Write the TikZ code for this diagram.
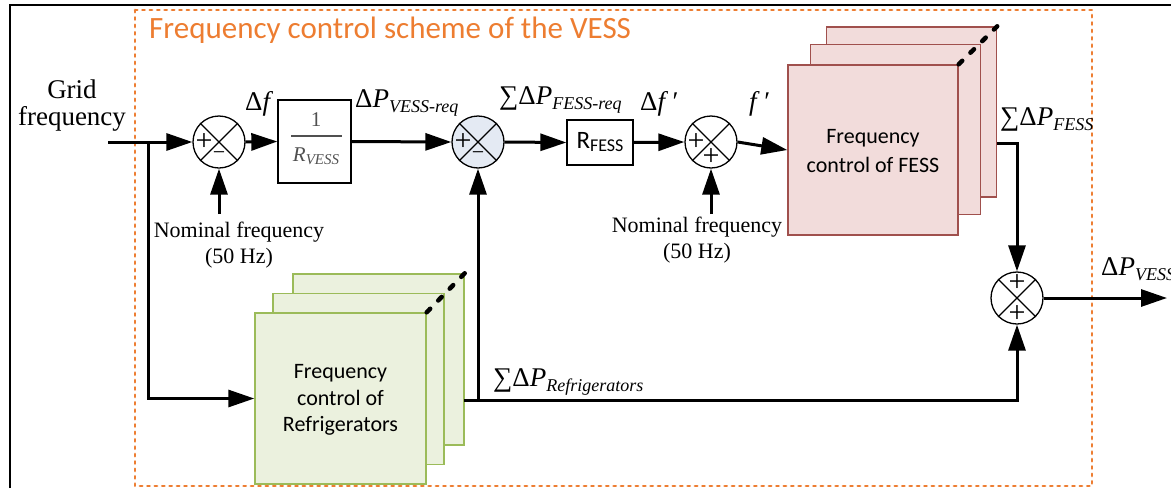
\documentclass[tikz,border=0pt]{standalone}
\usepackage{fontspec}
\setmainfont{Liberation Serif}
\newfontfamily\calib{Carlito}
\usetikzlibrary{arrows.meta}

\definecolor{vessorange}{HTML}{ED7D31}
\definecolor{fessfill}{HTML}{F2DCDB}
\definecolor{fessline}{HTML}{A0504D}
\definecolor{refrfill}{HTML}{EBF1DE}
\definecolor{refrline}{HTML}{9BBB59}
\definecolor{sumfill}{HTML}{E4EAF3}
\definecolor{fracgray}{HTML}{505050}

\newcommand{\fsz}[1]{\fontsize{#1}{1.15\dimexpr#1pt\relax}\selectfont}
\newcommand{\lowsub}[1]{\raisebox{-5pt}{\fsz{18}\itshape #1}}

\begin{document}
\begin{tikzpicture}[x=1pt,y=-1pt,
  wire/.style={line width=3pt},
  flow/.style={wire,-{Triangle[length=26pt,width=17pt]}},
  summer/.style={circle,draw,line width=1.3pt,minimum size=52pt,inner sep=0pt},
  sign/.style={inner sep=0pt,font=\fsz{30}},
  lab/.style={inner sep=0pt,font=\fsz{27}},
  nomtext/.style={align=center,inner sep=0pt,font=\fsz{22}},
  fessbox/.style={draw=fessline,fill=fessfill,line width=1.4pt,minimum width=170pt,minimum height=170pt,inner sep=0pt},
  refrbox/.style={draw=refrline,fill=refrfill,line width=1.4pt,minimum width=171pt,minimum height=171pt,inner sep=0pt},
  blocktext/.style={align=center,inner sep=0pt,font=\calib\fsz{22}},
  dots/.style={line width=4.5pt,line cap=round,dash pattern=on 5pt off 11.5pt}
]
\useasboundingbox (0,0) rectangle (1171,488);

% outer frame and VESS boundary
\draw[line width=2.2pt] (10,488) -- (10,5) -- (1171,5);
\draw[vessorange,line width=2.8pt,line cap=round,dash pattern=on 2.2pt off 5.2pt] (135,10) rectangle (1092,486);
\node[anchor=west,inner sep=0pt,text=vessorange,font=\calib\fsz{31}] (title) at (149,30) {Frequency control scheme of the VESS};

% input
\node[inner sep=0pt,align=center,font=\fsz{27}] (grid) at (72,106) {Grid\\[-4pt]frequency};
\coordinate (in) at (108,142);
\coordinate (br) at (148,142);

% summing junctions
\node[summer] (s1) at (219,142) {};
\node[summer,fill=sumfill] (s2) at (478,142) {};
\node[summer] (s3) at (711,142) {};
\node[summer] (s4) at (1017,298) {};
\foreach \s in {s1,s2,s3,s4}{
  \draw[line width=1.3pt] (\s.north west) -- (\s.south east);
  \draw[line width=1.3pt] (\s.north east) -- (\s.south west);
}
\node[sign] (s1a) at (204,142) {+};
\node[sign] (s1b) at (219,157) {\raisebox{3pt}{\fsz{22}−}};
\node[sign] (s2a) at (463,142) {+};
\node[sign] (s2b) at (478,157) {\raisebox{3pt}{\fsz{22}−}};
\node[sign] (s3a) at (696,142) {+};
\node[sign] (s3b) at (711,157) {+};
\node[sign] (s4a) at (1017,283) {+};
\node[sign] (s4b) at (1017,314) {+};

% gain blocks
\node[draw,line width=1.3pt,minimum width=73pt,minimum height=83pt,inner sep=0pt] (g1) at (314.5,141.5) {};
\node[inner sep=0pt,text=fracgray,font=\fsz{21}] (g1n) at (316,120) {1};
\node[inner sep=0pt,text=fracgray,font=\fsz{21}\itshape] (g1d) at (316,156) {R\raisebox{-3pt}{\fsz{15}VESS}};
\draw[fracgray,line width=1.4pt] (291,136) -- (342,136);

\node[draw,line width=1.3pt,minimum width=66pt,minimum height=45pt,inner sep=0pt,font=\calib\fsz{25}] (rf) at (600,142.5) {R\raisebox{-3pt}{\fsz{18}FESS}};

% FESS controller stack
\node[fessbox] (fb) at (911.5,112) {};
\node[fessbox] (fm) at (895.5,129.5) {};
\node[fessbox] (ff) at (873,150) {};
\node[blocktext] (fesst) at (873,151) {Frequency\\[4pt]control of FESS};
\draw[dots] (ff.north east) -- (fb.north east);

% refrigerator controller stack
\node[refrbox] (rb) at (378.5,359.5) {};
\node[refrbox] (rm) at (358.5,379) {};
\node[refrbox] (rr) at (340.5,398.5) {};
\node[blocktext] (refrt) at (340.5,400) {Frequency\\[1pt]control of\\[1pt]Refrigerators};
\draw[dots] (rr.north east) -- (rb.north east);

% nominal frequency references
\coordinate (n1) at (219,214);
\coordinate (n2) at (711,214);
\node[nomtext] (n1t) at (239,245) {Nominal frequency\\[1pt](50 Hz)};
\node[nomtext] (n2t) at (697,240) {Nominal frequency\\[1pt](50 Hz)};

% signal flow
\draw[wire] (in) -- (br);
\draw[flow] (br) -- (s1.west);
\draw[flow] (br) |- (rr.west);
\draw[flow] (n1) -- (s1.south);
\draw[flow] (s1.east) -- (g1.west);
\draw[flow] (g1.east) -- (s2.west);
\draw[flow] (s2.east) -- (rf.west);
\draw[flow] (rf.east) -- (s3.west);
\draw[flow] (n2) -- (s3.south);
\draw[flow] (s3.east) -- (ff.west);

\coordinate (fo) at (997,143);
\draw[flow] (fo) -| (s4.north);
\coordinate (ro) at (464,400);
\coordinate (rj) at (478,400);
\draw[flow] (ro) -| (s4.south);
\draw[flow] (rj) -- (s2.south);
\coordinate (out) at (1167,298);
\draw[flow] (s4.east) -- (out);

% signal labels
\node[lab,anchor=west] (l1) at (245,104) {Δ\textit{f}};
\node[lab,anchor=west] (l2) at (355,103) {Δ\textit{P}\lowsub{VESS-req}};
\node[lab,anchor=west] (l3) at (499,100) {∑Δ\textit{P}\lowsub{FESS-req}};
\node[lab,anchor=west] (l4) at (640,104) {Δ\textit{f}\,′};
\node[lab,anchor=west] (l5) at (749,104) {\textit{f}\,′};
\node[lab,anchor=west] (l6) at (1000,119) {∑Δ\textit{P}\lowsub{FESS}};
\node[lab,anchor=west] (l7) at (493,382) {∑Δ\textit{P}\lowsub{Refrigerators}};
\node[lab,anchor=west] (l8) at (1101,269) {Δ\textit{P}\lowsub{VESS}};
\end{tikzpicture}
\end{document}
